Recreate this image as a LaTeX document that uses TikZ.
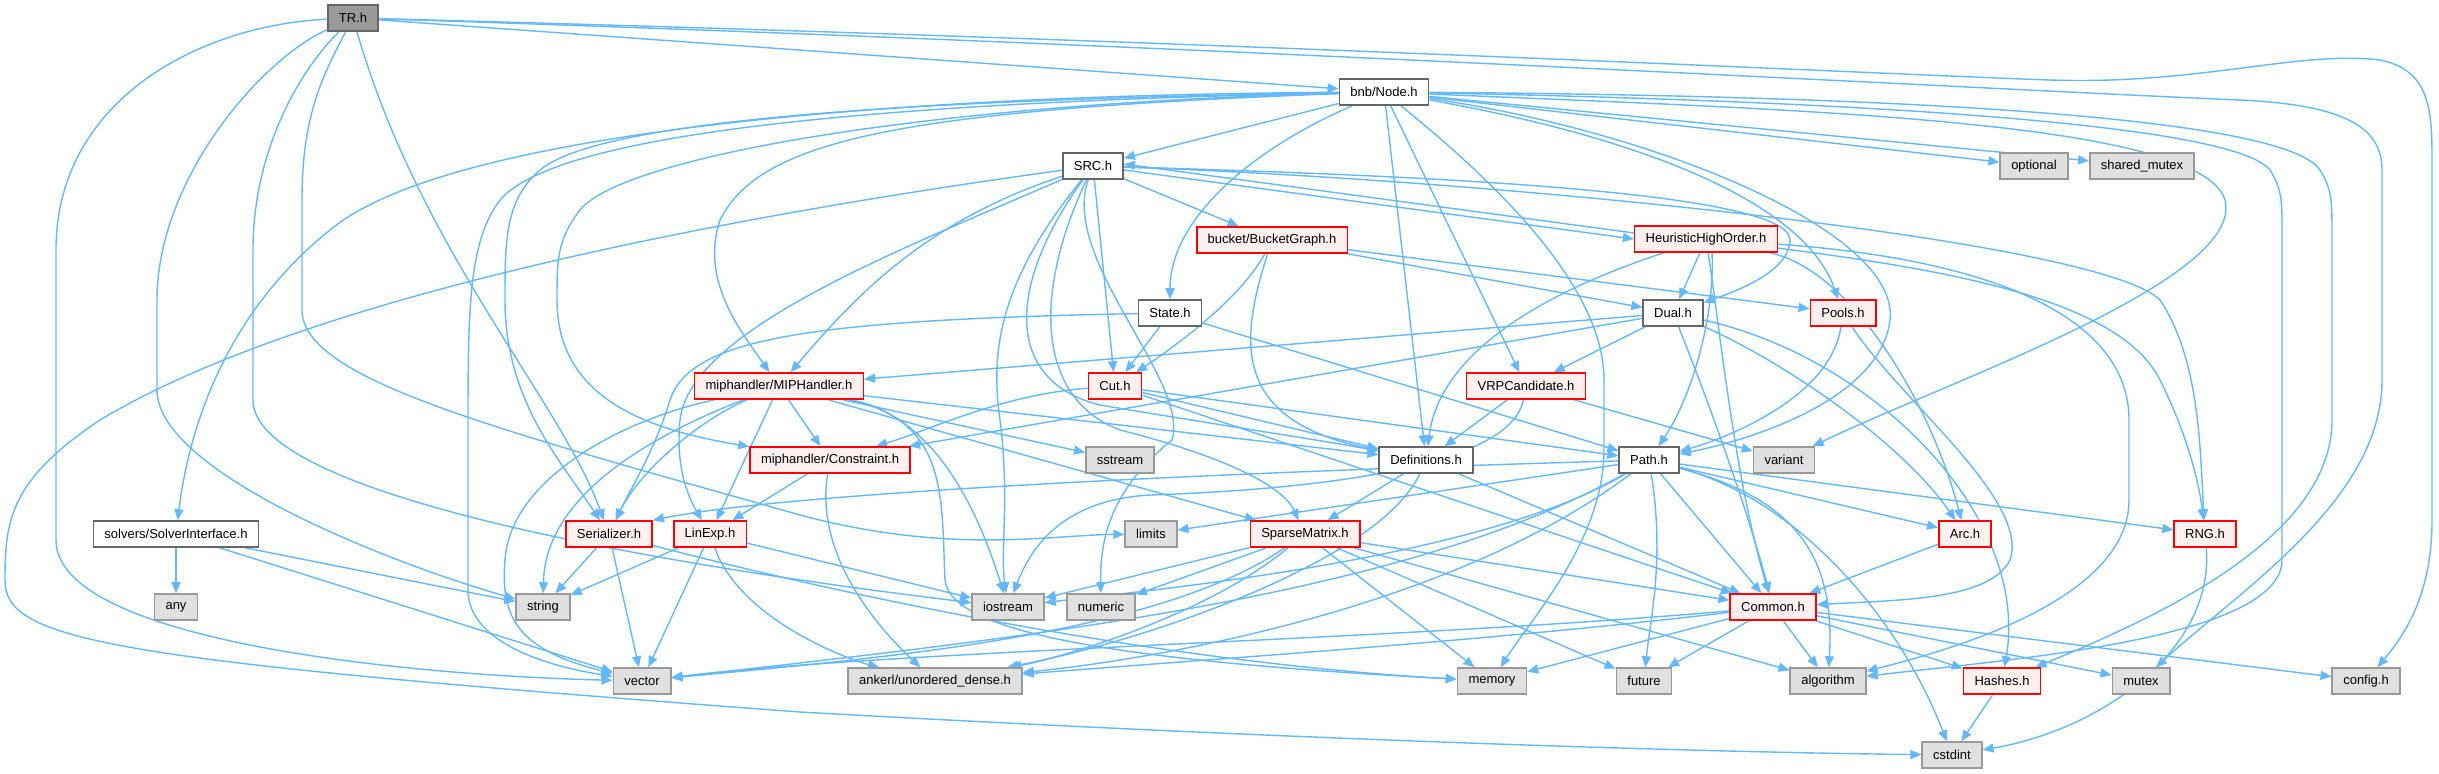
\documentclass[tikz,border=0pt]{standalone}
\usepackage{fontspec}
\setmainfont{Liberation Sans}
\usetikzlibrary{arrows.meta,backgrounds}
\definecolor{wire}{HTML}{63B8FF}
\definecolor{rootfill}{HTML}{999999}
\definecolor{rim}{HTML}{666666}
\definecolor{lostfill}{HTML}{FFF0F0}
\definecolor{sysfill}{HTML}{E0E0E0}
\definecolor{sysrim}{HTML}{999999}

\begin{document}
\begin{tikzpicture}[x=0.5pt, y=-0.5pt,
  box/.style={draw, line width=0.8pt, minimum height=13pt, inner xsep=5.5pt,
    inner ysep=0pt, font=\fontsize{6.5}{7}\selectfont},
  root/.style={box, fill=rootfill, draw=rim},
  file/.style={box, fill=white, draw=rim},
  lost/.style={box, fill=lostfill, draw=red},
  sys/.style={box, fill=sysfill, draw=sysrim},
  dep/.style={draw=wire, line width=0.7pt, -{Triangle[length=5.5pt,width=4.5pt]}}
]
  \useasboundingbox (0,0) rectangle (2439,773);

  % headers, row by row
  \node[root] (tr) at (353,18) {TR.h};
  \node[file] (node) at (1384,92) {bnb/Node.h};
  \node[file] (src) at (1093,166) {SRC.h};
  \node[sys] (optional) at (2034,166) {optional};
  \node[sys] (shmutex) at (2142,166) {shared\_mutex};
  \node[lost] (bg) at (1272,240) {bucket/BucketGraph.h};
  \node[lost] (hho) at (1706,239) {HeuristicHighOrder.h};
  \node[file] (state) at (1170,313) {State.h};
  \node[file] (dual) at (1673,313) {Dual.h};
  \node[lost] (pools) at (1843,313) {Pools.h};
  \node[lost] (mip) at (779,386) {miphandler/MIPHandler.h};
  \node[lost] (cut) at (1115,386) {Cut.h};
  \node[lost] (vrp) at (1526,386) {VRPCandidate.h};
  \node[lost] (cons) at (830,460) {miphandler/Constraint.h};
  \node[sys] (sstream) at (1120,460) {sstream};
  \node[file] (defs) at (1426,460) {Definitions.h};
  \node[file] (path) at (1649,460) {Path.h};
  \node[sys] (variant) at (1784,460) {variant};
  \node[file] (solver) at (176,534) {solvers/SolverInterface.h};
  \node[lost] (ser) at (609,534) {Serializer.h};
  \node[lost] (linexp) at (710,534) {LinExp.h};
  \node[sys] (limits) at (1151,534) {limits};
  \node[lost] (sparse) at (1305,534) {SparseMatrix.h};
  \node[lost] (arc) at (1965,534) {Arc.h};
  \node[lost] (rng) at (2205,534) {RNG.h};
  \node[sys] (any) at (176,607) {any};
  \node[sys] (string) at (543,607) {string};
  \node[sys] (iostream) at (1008,607) {iostream};
  \node[sys] (numeric) at (1101,607) {numeric};
  \node[lost] (common) at (1773,607) {Common.h};
  \node[sys] (vector) at (642,681) {vector};
  \node[sys] (ankerl) at (935,681) {ankerl/unordered\_dense.h};
  \node[sys] (memory) at (1492,681) {memory};
  \node[sys] (future) at (1644,681) {future};
  \node[sys] (algorithm) at (1828,681) {algorithm};
  \node[lost] (hashes) at (2002,681) {Hashes.h};
  \node[sys] (mutex) at (2141,681) {mutex};
  \node[sys] (config) at (2366,681) {config.h};
  \node[sys] (cstdint) at (1952,755) {cstdint};

  \begin{scope}[on background layer]
    \fill[white] (0,0) rectangle (2439,773);

    % short includes
    \foreach \a/\b in {tr/node, node/src, node/defs, node/vrp, node/optional,
        node/shmutex, src/bg, src/cut, hho/dual, bg/dual, bg/pools, state/cut,
        state/path, dual/mip, dual/cons, dual/vrp, mip/cons, mip/linexp,
        mip/sstream, mip/sparse, mip/defs, cut/defs, cut/path, cut/common,
        vrp/defs, vrp/variant, cons/linexp, defs/sparse, defs/common,
        path/limits, path/arc, path/rng, path/common, sparse/iostream,
        sparse/numeric, sparse/memory, sparse/future, sparse/algorithm,
        sparse/common, ser/string, ser/vector, linexp/string, linexp/vector,
        linexp/iostream, arc/common, common/memory, common/future,
        common/algorithm, common/hashes, common/mutex, common/config,
        hashes/cstdint, solver/any, solver/string, solver/vector}
      \draw[dep] (\a) -- (\b);

    % SRC.h <-> HeuristicHighOrder.h
    \draw[dep] ([yshift=-2pt]src.east) -- (hho.west);
    \draw[dep] ([yshift=3pt]hho.west) -- ([yshift=1pt]src.east);

    % TR.h
    \draw[dep] (tr) .. controls (1200,40) and (1900,75) .. (2050,80)
      .. controls (2200,85) and (2300,50) .. (2380,60)
      .. controls (2430,70) and (2432,110) .. (2432,160) -- (2432,520)
      .. controls (2432,600) and (2400,640) .. (config);
    \draw[dep] (tr) .. controls (1200,45) and (2000,90) .. (2240,100)
      .. controls (2350,105) and (2382,130) .. (2382,170) -- (2382,380)
      .. controls (2382,500) and (2240,590) .. (mutex);
    \draw[dep] (tr) .. controls (200,25) and (56,100) .. (56,250) -- (56,540)
      .. controls (56,640) and (400,675) .. (vector);
    \draw[dep] (tr) .. controls (260,60) and (157,180) .. (157,300) -- (157,390)
      .. controls (157,470) and (380,560) .. (string);
    \draw[dep] (tr) .. controls (300,70) and (253,150) .. (253,250) -- (253,400)
      .. controls (253,500) and (700,570) .. (iostream);
    \draw[dep] (tr) .. controls (320,80) and (302,120) .. (302,200) -- (302,310)
      .. controls (302,380) and (500,430) .. (800,515)
      .. controls (950,555) and (1050,535) .. (limits);
    \draw[dep] (tr) .. controls (420,250) and (560,400) .. (ser);

    % bnb/Node.h
    \draw[dep] (node) .. controls (1250,150) and (1170,220) .. (state);
    \draw[dep] (node) .. controls (1480,170) and (1604,280) .. (1604,380) -- (1604,450)
      .. controls (1604,540) and (1530,620) .. (memory);
    \draw[dep] (node) .. controls (1800,110) and (2200,120) .. (2225,200)
      .. controls (2245,280) and (1950,380) .. (variant);
    \draw[dep] (node) .. controls (1800,100) and (2230,120) .. (2270,170)
      .. controls (2282,190) and (2282,200) .. (2282,230) -- (2282,560)
      .. controls (2282,640) and (2000,660) .. (algorithm);
    \draw[dep] (node) .. controls (1800,95) and (2280,110) .. (2320,170)
      .. controls (2332,190) and (2332,200) .. (2332,240) -- (2332,420)
      .. controls (2332,540) and (2150,620) .. (hashes);
    \draw[dep] (node) .. controls (1600,130) and (1800,190) .. (pools);
    \draw[dep] (node) .. controls (1650,130) and (1900,230) .. (1890,320)
      .. controls (1880,400) and (1750,440) .. (path);
    \draw[dep] (node) .. controls (900,95) and (450,130) .. (330,230)
      .. controls (230,310) and (190,420) .. (solver);
    \draw[dep] (node) .. controls (900,100) and (600,120) .. (540,170)
      .. controls (505,200) and (505,240) .. (505,300)
      .. controls (505,400) and (560,460) .. (ser);
    \draw[dep] (node) .. controls (900,102) and (560,130) .. (500,200)
      .. controls (470,240) and (468,300) .. (468,420) -- (468,590)
      .. controls (468,640) and (540,665) .. (vector);
    \draw[dep] (node) .. controls (900,105) and (620,160) .. (580,210)
      .. controls (557,240) and (557,260) .. (557,300)
      .. controls (557,400) and (650,430) .. (cons);
    \draw[dep] (node) .. controls (900,110) and (760,140) .. (720,220)
      .. controls (700,280) and (740,330) .. (mip);

    % SRC.h
    \draw[dep] (src) .. controls (930,220) and (860,290) .. (mip);
    \draw[dep] (src) .. controls (700,220) and (300,300) .. (100,420)
      .. controls (10,480) and (5,520) .. (5,580)
      .. controls (5,640) and (100,660) .. (800,712)
      .. controls (1300,740) and (1700,752) .. (cstdint);
    \draw[dep] (src) .. controls (1400,175) and (1790,190) .. (1790,240)
      .. controls (1790,270) and (1740,290) .. (dual);
    \draw[dep] (src) .. controls (1500,180) and (2100,240) .. (2160,300)
      .. controls (2200,360) and (2200,450) .. (rng);
    \draw[dep] (src) .. controls (1010,280) and (1000,380) .. (1100,405)
      .. controls (1250,430) and (1320,440) .. (defs);
    \draw[dep] (src) .. controls (900,250) and (690,330) .. (680,420)
      .. controls (675,470) and (690,500) .. (linexp);
    \draw[dep] (src) .. controls (1030,300) and (1040,400) .. (1120,430)
      .. controls (1200,450) and (1280,480) .. (sparse);
    \draw[dep] (src) .. controls (1000,280) and (990,350) .. (1000,420)
      .. controls (1010,500) and (1000,550) .. (iostream);
    \draw[dep] (src) .. controls (1060,260) and (1190,380) .. (1172,440)
      .. controls (1110,490) and (1100,540) .. (numeric);

    % HeuristicHighOrder.h
    \draw[dep] ([xshift=3pt]hho.south) .. controls (1715,320) and (1690,400) .. (path);
    \draw[dep] (hho) .. controls (1850,270) and (1930,400) .. (arc);
    \draw[dep] (hho) .. controls (1950,270) and (2120,300) .. (2160,380)
      .. controls (2190,440) and (2200,490) .. (rng);
    \draw[dep] (hho) .. controls (2000,260) and (2129,320) .. (2129,420) -- (2129,500)
      .. controls (2129,600) and (1950,650) .. (algorithm);
    \draw[dep] (hho) .. controls (1550,290) and (1440,350) .. (defs);
    \draw[dep] (hho) .. controls (1720,330) and (1735,480) .. (common);

    % Dual.h, BucketGraph.h, State.h
    \draw[dep] (dual) .. controls (1780,360) and (1900,440) .. (arc);
    \draw[dep] (dual) .. controls (1700,380) and (1745,500) .. (common);
    \draw[dep] (dual) .. controls (1880,360) and (2030,520) .. (hashes);
    \draw[dep] (bg) .. controls (1240,300) and (1170,350) .. (cut);
    \draw[dep] (bg) .. controls (1240,340) and (1230,420) .. (defs);
    \draw[dep] (state) .. controls (800,320) and (690,340) .. (670,400)
      .. controls (655,450) and (630,490) .. (ser);

    % MIPHandler.h, Cut.h, VRPCandidate.h, Constraint.h, Definitions.h
    \draw[dep] (mip) .. controls (700,420) and (640,470) .. (ser);
    \draw[dep] (mip) .. controls (640,440) and (545,500) .. (string);
    \draw[dep] (mip) .. controls (620,420) and (510,480) .. (505,560)
      .. controls (500,620) and (520,650) .. (vector);
    \draw[dep] (mip) .. controls (930,415) and (975,500) .. (iostream);
    \draw[dep] (mip) .. controls (950,420) and (941,500) .. (945,580)
      .. controls (950,630) and (1100,660) .. (memory);
    \draw[dep] (cut) .. controls (1000,395) and (930,430) .. (cons);
    \draw[dep] (vrp) .. controls (1510,470) and (1300,490) .. (1150,495)
      .. controls (1060,500) and (1030,550) .. (iostream);
    \draw[dep] (cons) .. controls (815,550) and (870,620) .. (ankerl);
    \draw[dep] (defs) .. controls (1380,560) and (1150,640) .. (ankerl);

    % Path.h
    \draw[dep] (path) .. controls (1300,470) and (800,490) .. (ser.north east);
    \draw[dep] (path) .. controls (1480,560) and (1150,590) .. (iostream);
    \draw[dep] (path) .. controls (1400,600) and (1000,640) .. (vector);
    \draw[dep] (path) .. controls (1450,610) and (1150,660) .. (ankerl);
    \draw[dep] (path) .. controls (1665,560) and (1650,620) .. (future);
    \draw[dep] (path) .. controls (1800,500) and (1835,560) .. (algorithm);
    \draw[dep] (path) .. controls (1800,500) and (1900,620) .. (cstdint);

    % the rest
    \draw[dep] (sparse) .. controls (1150,640) and (850,660) .. (vector);
    \draw[dep] (sparse) .. controls (1200,620) and (1050,660) .. (ankerl);
    \draw[dep] (ser) .. controls (900,610) and (1200,665) .. (memory);
    \draw[dep] (linexp) .. controls (740,620) and (850,660) .. (ankerl);
    \draw[dep] (rng) .. controls (2215,650) and (2100,730) .. (cstdint);
    \draw[dep] (pools) .. controls (1830,400) and (1720,440) .. (path);
    \draw[dep] (pools) .. controls (1900,400) and (2030,500) .. (2010,560)
      .. controls (1990,600) and (1900,600) .. (common);
    \draw[dep] (common) .. controls (1400,640) and (900,650) .. (vector);
    \draw[dep] (common) .. controls (1500,640) and (1200,660) .. (ankerl);
  \end{scope}
\end{tikzpicture}
\end{document}
